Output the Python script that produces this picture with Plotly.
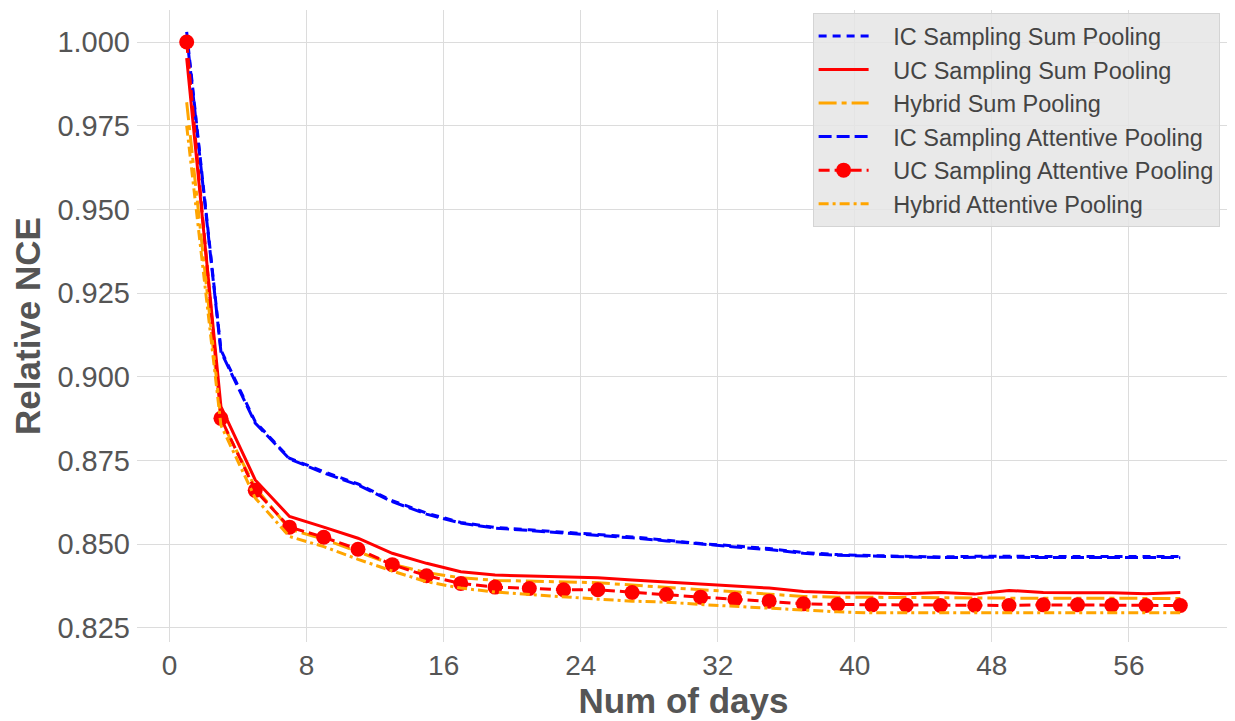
import plotly.graph_objects as go

days = list(range(1, 60, 2))

ic_sum = [1.003, 0.908, 0.8866, 0.8757, 0.8717, 0.8680, 0.8630, 0.8593, 0.8565, 0.8550,
          0.8543, 0.8536, 0.8530, 0.8522, 0.8512, 0.8502, 0.8495, 0.8487, 0.8475, 0.8469,
          0.8466, 0.8464, 0.8462, 0.8464, 0.8464, 0.8463, 0.8464, 0.8464, 0.8464, 0.8463]
uc_sum = [0.9952, 0.8911, 0.8692, 0.8583, 0.8551, 0.8518, 0.8473, 0.8443, 0.8418, 0.8408,
          0.8405, 0.8403, 0.8400, 0.8393, 0.8387, 0.8380, 0.8374, 0.8369, 0.8359, 0.8355,
          0.8354, 0.8352, 0.8356, 0.8351, 0.8362, 0.8356, 0.8355, 0.8355, 0.8352, 0.8356]
hybrid_sum = [0.982, 0.887, 0.8670, 0.8545, 0.8515, 0.8478, 0.8440, 0.8415, 0.8400, 0.8392,
              0.8390, 0.8388, 0.8385, 0.8378, 0.8370, 0.8364, 0.8358, 0.8350, 0.8344, 0.8342,
              0.8341, 0.8341, 0.8340, 0.8340, 0.8339, 0.8339, 0.8339, 0.8338, 0.8339, 0.8338]
ic_att = [1.002, 0.9075, 0.8862, 0.8755, 0.8713, 0.8677, 0.8627, 0.8590, 0.8563, 0.8548,
          0.8541, 0.8534, 0.8528, 0.8519, 0.8510, 0.8500, 0.8492, 0.8484, 0.8473, 0.8467,
          0.8464, 0.8462, 0.8460, 0.8461, 0.8461, 0.8460, 0.8461, 0.8461, 0.8461, 0.8460]
uc_att = [1.000, 0.8876, 0.8661, 0.8551, 0.8521, 0.8485, 0.8439, 0.8406, 0.8383, 0.8372,
          0.8368, 0.8364, 0.8364, 0.8356, 0.8350, 0.8342, 0.8336, 0.8330, 0.8322, 0.8320,
          0.8319, 0.8318, 0.8317, 0.8318, 0.8317, 0.8319, 0.8319, 0.8318, 0.8317, 0.8317]
hybrid_att = [0.975, 0.8855, 0.8638, 0.8523, 0.8493, 0.8455, 0.8420, 0.8388, 0.8369, 0.8357,
              0.8350, 0.8342, 0.8336, 0.8330, 0.8327, 0.8320, 0.8314, 0.8308, 0.8303, 0.8298,
              0.8295, 0.8295, 0.8295, 0.8296, 0.8295, 0.8296, 0.8296, 0.8296, 0.8296, 0.8295]

series_names = ["IC Sampling Sum Pooling", "UC Sampling Sum Pooling", "Hybrid Sum Pooling",
                "IC Sampling Attentive Pooling", "UC Sampling Attentive Pooling",
                "Hybrid Attentive Pooling"]

x_ticks = [0, 8, 16, 24, 32, 40, 48, 56]
y_ticks = [0.825, 0.850, 0.875, 0.900, 0.925, 0.950, 0.975, 1.000]

FONT = "Liberation Sans, Arial, sans-serif"
PAD = "\u00a0\u00a0\u00a0"

fig = go.Figure()
fig.add_trace(go.Scatter(x=days, y=ic_sum, mode="lines", name=PAD + series_names[0],
                         line=dict(color="blue", width=3, dash="8px,6px")))
fig.add_trace(go.Scatter(x=days, y=uc_sum, mode="lines", name=PAD + series_names[1],
                         line=dict(color="red", width=3)))
fig.add_trace(go.Scatter(x=days, y=hybrid_sum, mode="lines", name=PAD + series_names[2],
                         line=dict(color="orange", width=3, dash="18px,5px,5px,5px")))
fig.add_trace(go.Scatter(x=days, y=ic_att, mode="lines", name=PAD + series_names[3],
                         line=dict(color="blue", width=3, dash="13px,5px")))
fig.add_trace(go.Scatter(x=days, y=uc_att, mode="lines+markers", name=PAD + series_names[4],
                         line=dict(color="red", width=3, dash="11px,5px"),
                         marker=dict(color="red", size=15, symbol="circle")))
fig.add_trace(go.Scatter(x=days, y=hybrid_att, mode="lines", name=PAD + series_names[5],
                         line=dict(color="orange", width=3, dash="10px,4px,3px,4px")))

fig.update_layout(
    width=1235, height=721,
    margin=dict(l=129, r=13, t=2, b=87, autoexpand=False),
    plot_bgcolor="white", paper_bgcolor="white",
    font=dict(family=FONT, color="#555555"),
    legend=dict(x=0.9905, xanchor="right", y=0.995, yanchor="top",
                bgcolor="rgba(229,229,229,0.85)", bordercolor="#d4d4d4", borderwidth=1,
                font=dict(size=23.5, color="#444444", family=FONT), itemwidth=50,
                tracegroupgap=0),
    showlegend=True,
)
fig.update_xaxes(range=[-1.9, 61.9], tickvals=x_ticks, ticktext=[str(v) for v in x_ticks],
                 showgrid=True, gridcolor="#dcdcdc", gridwidth=1, zeroline=False,
                 showline=False, ticks="", tickfont=dict(size=28, color="#555555"),
                 ticklabelstandoff=4,
                 title=dict(text="<b>Num of days</b>", font=dict(size=35, color="#555555"), standoff=2))
fig.update_yaxes(range=[0.8208, 1.00956], tickvals=y_ticks, ticktext=[f"{v:.3f}" for v in y_ticks],
                 showgrid=True, gridcolor="#dcdcdc", gridwidth=1, zeroline=False,
                 showline=False, ticks="", tickfont=dict(size=29, color="#555555"),
                 ticklabelstandoff=6,
                 title=dict(text="<b>Relative NCE</b>", font=dict(size=35, color="#555555"), standoff=6))

fig.write_html("out.html")
